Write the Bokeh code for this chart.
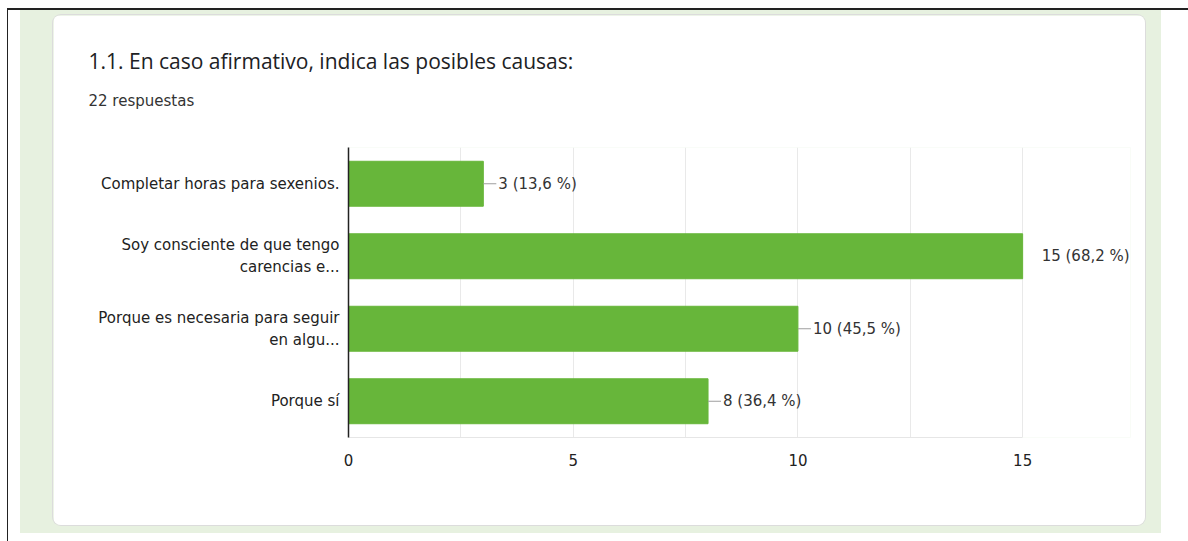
from bokeh.plotting import figure
from bokeh.models import Range1d, FactorRange, FixedTicker, Title, Column
from bokeh.core.properties import value
from bokeh.embed import file_html
from bokeh.resources import INLINE

# ---- data ----
categories = [
    "Completar horas para sexenios.",
    "Soy consciente de que tengo\ncarencias e...",
    "Porque es necesaria para seguir\nen algu...",
    "Porque sí",
]
counts = [3, 15, 10, 8]
percents = [13.6, 68.2, 45.5, 36.4]
x_ticks = [0, 5, 10, 15]
x_minor_ticks = [2.5, 7.5, 12.5]
title_text = "1.1. En caso afirmativo, indica las posibles causas:"
subtitle_text = "22 respuestas"

labels = [f"{c} ({p:.1f} %)".replace(".", ",") for c, p in zip(counts, percents)]
vmax = max(counts)
offsets = [19 if c == vmax else 15 for c in counts]

BAR = "#67b63a"
GREEN_BG = "#e7f1e0"

p = figure(
    width=1092, height=510,
    y_range=FactorRange(factors=list(reversed(categories))),
    x_range=Range1d(0, 17.4),
    title=None,
    output_backend="svg", toolbar_location=None,
    min_border_left=295, min_border_right=15,
    min_border_top=132, min_border_bottom=88,
)
p.border_fill_color = "white"
p.background_fill_color = "white"
p.outline_line_color = None

p.hbar(y=categories, right=counts, left=0, height=0.62,
       fill_color=BAR, line_color=BAR)

stem_x = [c for c in counts if c < vmax]
stem_y = [cat for cat, c in zip(categories, counts) if c < vmax]
p.ray(x=stem_x, y=stem_y, length=13, angle=0, length_units="screen",
      line_color="#9e9e9e", line_width=1)

p.text(x=counts, y=categories, text=labels, x_offset=offsets,
       text_baseline="middle", text_align="left",
       text_font=value("DejaVu Sans"), text_font_size="15px",
       text_color="#333333")

# x axis
p.xaxis.ticker = FixedTicker(ticks=x_ticks, minor_ticks=x_minor_ticks)
p.xaxis.bounds = (0, 15)
p.xaxis.axis_line_color = "#e6e6e6"
p.xaxis.major_tick_line_color = None
p.xaxis.minor_tick_line_color = None
p.xaxis.major_label_standoff = 10
p.xaxis.major_label_text_font = "DejaVu Sans"
p.xaxis.major_label_text_font_size = "15px"
p.xaxis.major_label_text_color = "#222222"

# y axis
p.yaxis.axis_line_color = "#222222"
p.yaxis.axis_line_width = 1.5
p.yaxis.major_tick_line_color = None
p.yaxis.minor_tick_line_color = None
p.yaxis.major_label_standoff = 3
p.yaxis.major_label_text_font = "DejaVu Sans"
p.yaxis.major_label_text_font_size = "15px"
p.yaxis.major_label_text_color = "#222222"

p.xgrid.grid_line_color = "#e9e9e9"
p.xgrid.minor_grid_line_color = "#e9e9e9"
p.ygrid.grid_line_color = None

t2 = Title(text=subtitle_text, text_font="DejaVu Sans", text_font_size="15px",
           text_font_style="normal", text_color="#333333", align="left",
           offset=-260, standoff=76)
t1 = Title(text=title_text, text_font="Open Sans", text_font_size="21px",
           text_font_style="normal", text_color="#202124", align="left",
           offset=-260, standoff=-46)
p.add_layout(t2, "above")
p.add_layout(t1, "above")

p.margin = (5, 16, 8, 33)
p.styles = {"border-radius": "8px", "overflow": "hidden",
            "box-shadow": "0 0 0 1px #dcdcdc"}

green = Column(children=[p], width=1141, height=523, margin=(0, 27, 8, 12),
               styles={"background-color": GREEN_BG})
white = Column(children=[green], width=1180, height=531, margin=(2, 0, 0, 1),
               styles={"background-color": "white"})
black = Column(children=[white], width=1181, height=533, margin=(8, 0, 0, 7),
               styles={"background-color": "#222222"})
outer = Column(children=[black], width=1188, height=541,
               styles={"background-color": "white"})

open("out.html", "w").write(file_html(outer, INLINE))
